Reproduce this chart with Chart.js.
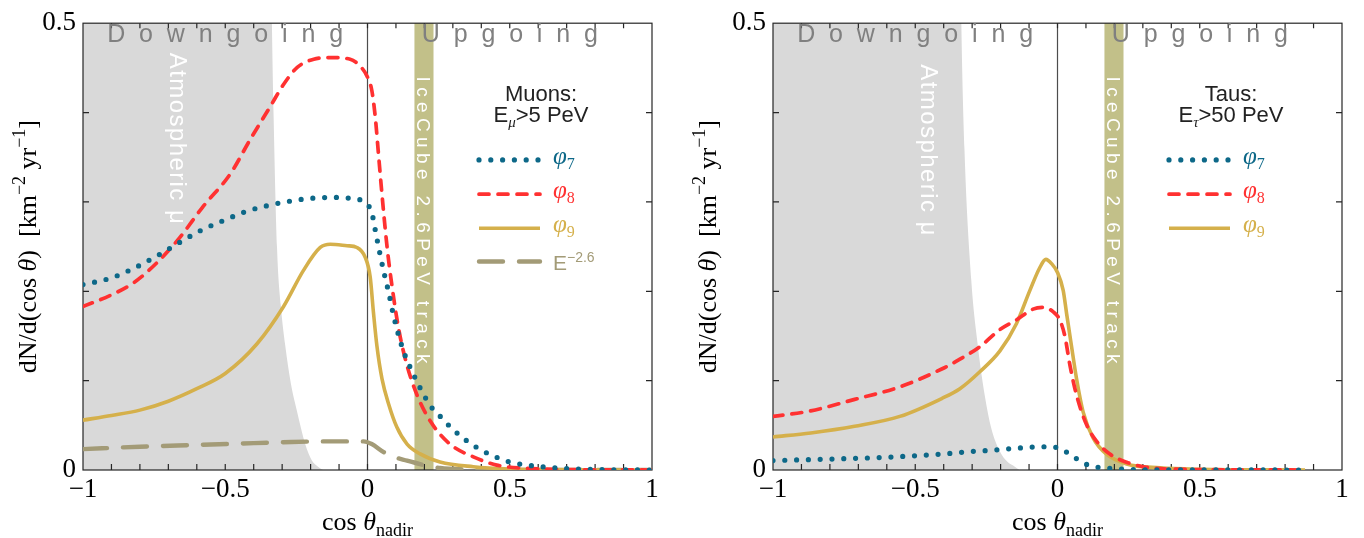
<!DOCTYPE html>
<html><head><meta charset="utf-8">
<script src="https://cdn.jsdelivr.net/npm/chart.js@4/dist/chart.umd.min.js"></script>
<style>
html,body{margin:0;padding:0;background:#fff;}
#wrap{position:relative;width:1364px;height:538px;overflow:hidden;}
#c1{position:absolute;left:0;top:0;}
#c2{position:absolute;left:680px;top:0;}
</style></head><body>
<div id="wrap"><canvas id="c1" width="680" height="538"></canvas><canvas id="c2" width="684" height="538"></canvas></div>
<script>
// ---------- tick labels ----------
const xTickValues = [-1, -0.5, 0, 0.5, 1];
const xTickLabels = ['\u22121', '\u22120.5', '0', '0.5', '1'];
const yTickValues = [0, 0.5];
const yTickLabels = ['0', '0.5'];
const seriesNames = ['\u03c67', '\u03c68', '\u03c69', 'E\u22122.6'];

// ---------- Muons panel (left) ----------
const muPhi7X = [-1, -0.9, -0.82, -0.74, -0.66, -0.58, -0.5, -0.43, -0.35, -0.27, -0.2, -0.12, -0.06, 0, 0.015, 0.03, 0.045, 0.06, 0.075, 0.09, 0.11, 0.13, 0.15, 0.183, 0.223, 0.25, 0.276, 0.335, 0.396, 0.437, 0.5, 0.6, 0.7, 0.8, 1];
const muPhi7Y = [0.2075, 0.215, 0.226, 0.2396, 0.2547, 0.269, 0.28, 0.289, 0.296, 0.301, 0.304, 0.305, 0.304, 0.297, 0.288, 0.264, 0.24, 0.218, 0.198, 0.175, 0.15, 0.13, 0.115, 0.093, 0.071, 0.062, 0.053, 0.036, 0.023, 0.0165, 0.009, 0.004, 0.0015, 0.0005, 0];

const muPhi8X = [-1, -0.9, -0.82, -0.74, -0.66, -0.58, -0.482, -0.412, -0.342, -0.294, -0.247, -0.189, -0.131, -0.061, -0.026, -0.002, 0.015, 0.027, 0.039, 0.051, 0.069, 0.086, 0.11, 0.139, 0.174, 0.22, 0.29, 0.372, 0.454, 0.55, 0.7, 1];
const muPhi8Y = [0.183, 0.196, 0.21, 0.232, 0.26, 0.294, 0.3315, 0.37, 0.4066, 0.432, 0.4505, 0.4597, 0.4615, 0.4597, 0.452, 0.441, 0.425, 0.396, 0.352, 0.308, 0.249, 0.206, 0.157, 0.117, 0.084, 0.055, 0.029, 0.0147, 0.0055, 0.002, 0.0005, 0];

const muPhi9X = [-1, -0.9, -0.8, -0.7, -0.6, -0.5, -0.389, -0.295, -0.225, -0.166, -0.131, -0.072, -0.037, -0.008, 0.0095, 0.021, 0.033, 0.051, 0.075, 0.103, 0.139, 0.185, 0.255, 0.372, 0.5, 0.7, 1];
const muPhi9Y = [0.0558, 0.061, 0.067, 0.077, 0.091, 0.108, 0.141, 0.183, 0.2234, 0.249, 0.2527, 0.251, 0.249, 0.238, 0.216, 0.176, 0.139, 0.102, 0.073, 0.048, 0.029, 0.018, 0.009, 0.0037, 0.0012, 0.0003, 0];

const muE26X = [-1, -0.8, -0.6, -0.45, -0.3, -0.15, -0.014, 0.015, 0.057, 0.092, 0.139, 0.197, 0.255, 0.35, 0.5, 1];
const muE26Y = [0.0234, 0.026, 0.028, 0.0295, 0.031, 0.032, 0.032, 0.029, 0.02, 0.0147, 0.0105, 0.0055, 0.0022, 0.0006, 0.0001, 0];

const muAtmX = [-1, -0.338, -0.336, -0.33, -0.318, -0.305, -0.289, -0.27, -0.248, -0.219, -0.196, -0.175, -0.156];
const muAtmY = [0.55, 0.55, 0.5, 0.396, 0.249, 0.185, 0.139, 0.098, 0.066, 0.029, 0.011, 0.004, 0];

// ---------- Taus panel (right) ----------
const tauPhi7X = [-1, -0.8, -0.6, -0.4, -0.32, -0.239, -0.157, -0.08, -0.039, 0, 0.034, 0.069, 0.108, 0.184, 0.266, 0.4, 0.87];
const tauPhi7Y = [0.0106, 0.0122, 0.0143, 0.018, 0.0203, 0.022, 0.024, 0.0258, 0.026, 0.025, 0.0196, 0.0123, 0.0055, 0.0019, 0.0005, 0.0002, 0];

const tauPhi8X = [-1, -0.87, -0.713, -0.554, -0.407, -0.343, -0.273, -0.203, -0.144, -0.086, -0.05, -0.015, 0.008, 0.026, 0.044, 0.067, 0.102, 0.137, 0.184, 0.243, 0.313, 0.4, 0.87];
const tauPhi8Y = [0.060, 0.066, 0.079, 0.093, 0.113, 0.124, 0.138, 0.157, 0.168, 0.18, 0.182, 0.177, 0.168, 0.1497, 0.1167, 0.0837, 0.0508, 0.0324, 0.0178, 0.0086, 0.003, 0.001, 0];

const tauPhi9X = [-1, -0.867, -0.713, -0.554, -0.407, -0.343, -0.273, -0.203, -0.144, -0.097, -0.062, -0.041, -0.021, 0, 0.02, 0.032, 0.049, 0.067, 0.09, 0.125, 0.172, 0.243, 0.36, 0.5, 0.87];
const tauPhi9Y = [0.037, 0.0415, 0.049, 0.06, 0.08, 0.091, 0.11, 0.133, 0.164, 0.201, 0.2266, 0.2357, 0.231, 0.221, 0.201, 0.175, 0.139, 0.102, 0.065, 0.036, 0.0178, 0.0068, 0.0024, 0.0008, 0];

const tauAtmX = [-1, -0.34, -0.338, -0.327, -0.303, -0.28, -0.256, -0.233, -0.203, -0.175, -0.156, -0.134];
const tauAtmY = [0.55, 0.55, 0.5, 0.359, 0.212, 0.139, 0.084, 0.047, 0.021, 0.009, 0.005, 0];

// ---------- styling ----------
const SANS = '"Liberation Sans", Arial, sans-serif';
const SERIF = '"Liberation Serif", "Times New Roman", serif';
const styles = [
  {color: '#0d6888', width: 5.2, dash: [0, 11.8], cap: 'round'},
  {color: '#ff3131', width: 3.7, dash: [10, 9], cap: 'round'},
  {color: '#d5b04b', width: 3.6, dash: [], cap: 'butt'},
  {color: '#a39b77', width: 4.4, dash: [24, 16], cap: 'round'}
];

const panels = [
  {
    canvas: 'c1', yW: 83, padR: 28,
    series: [[muPhi7X, muPhi7Y], [muPhi8X, muPhi8Y], [muPhi9X, muPhi9Y], [muE26X, muE26Y]],
    atm: [muAtmX, muAtmY],
    atmText: {x: -0.665, y: 0.467},
    title1: 'Muons:', sym: '\u03bc', rest: '>5 PeV'
  },
  {
    canvas: 'c2', yW: 93, padR: 22,
    series: [[tauPhi7X, tauPhi7Y], [tauPhi8X, tauPhi8Y], [tauPhi9X, tauPhi9Y]],
    atm: [tauAtmX, tauAtmY],
    atmText: {x: -0.449, y: 0.454},
    title1: 'Taus:', sym: '\u03c4', rest: '>50 PeV'
  }
];

function drawRich(ctx, segs, x, y, align) {
  let w = 0;
  segs.forEach(s => { ctx.font = s.f; w += ctx.measureText(s.t).width; });
  let cx = align === 'center' ? x - w / 2 : (align === 'right' ? x - w : x);
  ctx.textAlign = 'left'; ctx.textBaseline = 'alphabetic';
  segs.forEach(s => {
    ctx.font = s.f;
    if (s.c) ctx.fillStyle = s.c;
    ctx.fillText(s.t, cx, y + (s.dy || 0));
    cx += ctx.measureText(s.t).width;
  });
}
function drawSpaced(ctx, text, x, y, len, rot) {
  ctx.save();
  ctx.translate(x, y);
  if (rot) ctx.rotate(rot);
  ctx.letterSpacing = '0px';
  const w = ctx.measureText(text).width;
  const n = [...text].length;
  ctx.letterSpacing = ((len - w) / (n - 1)).toFixed(2) + 'px';
  ctx.textAlign = 'left'; ctx.textBaseline = 'alphabetic';
  ctx.fillText(text, 0, 0);
  ctx.restore();
}
function legendLabel(name, color) {
  if (name[0] === 'E') {
    return [{t: 'E', f: '21px ' + SANS, c: color}, {t: name.slice(1), f: '14px ' + SANS, dy: -8.4, c: color}];
  }
  return [{t: name[0], f: 'italic 25px ' + SERIF, c: color}, {t: name.slice(1), f: '16px ' + SERIF, dy: 5, c: color}];
}

function makePlugin(p) {
  const atmIndex = p.series.length;
  return {
    id: 'annot_' + p.canvas,
    afterDatasetDraw(chart, args) {
      if (args.index !== atmIndex) return;
      const ctx = chart.ctx, a = chart.chartArea, xs = chart.scales.x, ys = chart.scales.y;
      ctx.save();
      // IceCube band
      const b0 = xs.getPixelForValue(0.165), b1 = xs.getPixelForValue(0.232);
      ctx.fillStyle = '#c2c089';
      ctx.fillRect(b0, a.top, b1 - b0, a.bottom - a.top);
      // zero line
      const x0 = xs.getPixelForValue(0);
      ctx.strokeStyle = '#4d4d4d'; ctx.lineWidth = 1.2;
      ctx.beginPath(); ctx.moveTo(x0, a.top); ctx.lineTo(x0, a.bottom); ctx.stroke();
      // frame
      ctx.strokeStyle = '#262626'; ctx.lineWidth = 1.2;
      ctx.strokeRect(a.left, a.top, a.right - a.left, a.bottom - a.top);
      // inward ticks
      ctx.beginPath();
      for (let k = -9; k <= 9; k++) {
        const px = xs.getPixelForValue(k / 10);
        ctx.moveTo(px, a.bottom); ctx.lineTo(px, a.bottom - 6);
        ctx.moveTo(px, a.top); ctx.lineTo(px, a.top + 5);
      }
      for (let k = 1; k <= 4; k++) {
        const py = ys.getPixelForValue(k / 10);
        ctx.moveTo(a.left, py); ctx.lineTo(a.left + 6, py);
        ctx.moveTo(a.right, py); ctx.lineTo(a.right - 6, py);
      }
      ctx.stroke();
      // region labels
      ctx.fillStyle = '#808080';
      ctx.font = '25px ' + SANS;
      const yb = ys.getPixelForValue(0) - 428;
      drawSpaced(ctx, 'Downgoing', xs.getPixelForValue(-0.915), yb, 236, 0);
      drawSpaced(ctx, 'Upgoing', xs.getPixelForValue(0.191), yb, 176, 0);
      // Atmospheric mu
      ctx.fillStyle = '#ffffff';
      ctx.font = '24px ' + SANS;
      drawSpaced(ctx, 'Atmospheric \u03bc', xs.getPixelForValue(p.atmText.x) - 8.5, ys.getPixelForValue(p.atmText.y), 171, Math.PI / 2);
      // IceCube text
      ctx.font = '19px ' + SANS;
      drawSpaced(ctx, 'IceCube 2.6PeV track', (b0 + b1) / 2 - 6.8, a.top + 53.3, 287, Math.PI / 2);
      ctx.restore();
    },
    afterDatasetsDraw(chart) {
      const ctx = chart.ctx, a = chart.chartArea;
      ctx.save();
      // legend title
      ctx.fillStyle = '#222';
      drawRich(ctx, [{t: p.title1, f: '22px ' + SANS}], a.right - 111, a.top + 78, 'center');
      drawRich(ctx, [{t: 'E', f: '22px ' + SANS}, {t: p.sym, f: 'italic 15px ' + SERIF, dy: 5}, {t: p.rest, f: '22px ' + SANS}], a.right - 111, a.top + 99, 'center');
      // legend rows
      const rows = [136.7, 171, 205, 238.3];
      p.series.forEach((s, i) => {
        const st = styles[i];
        const ry = a.top + rows[i];
        ctx.save();
        ctx.strokeStyle = st.color; ctx.lineWidth = st.width; ctx.lineCap = st.cap;
        ctx.setLineDash(st.dash);
        ctx.beginPath(); ctx.moveTo(a.right - 173, ry); ctx.lineTo(a.right - 112 + (st.cap === 'round' && st.dash[0] === 0 ? 0.5 : 0), ry); ctx.stroke();
        ctx.restore();
        const isE = seriesNames[i][0] === 'E';
        drawRich(ctx, legendLabel(seriesNames[i], st.color), a.right - 99, ry + (isE ? 8.4 : 4), 'left');
      });
      // x axis title
      ctx.fillStyle = '#000';
      drawRich(ctx, [{t: 'cos ', f: '26px ' + SERIF}, {t: '\u03b8', f: 'italic 26px ' + SERIF}, {t: 'nadir', f: '18px ' + SERIF, dy: 6}], (a.left + a.right) / 2, 530, 'center');
      // y axis title
      ctx.translate(36, (a.top + a.bottom) / 2);
      ctx.rotate(-Math.PI / 2);
      drawRich(ctx, [
        {t: 'dN/d(cos ', f: '26px ' + SERIF},
        {t: '\u03b8', f: 'italic 26px ' + SERIF},
        {t: ')  [km', f: '26px ' + SERIF},
        {t: '\u22122', f: '18px ' + SERIF, dy: -11},
        {t: ' yr', f: '26px ' + SERIF},
        {t: '\u22121', f: '18px ' + SERIF, dy: -11},
        {t: ']', f: '26px ' + SERIF}
      ], 0, 0, 'center');
      ctx.restore();
    }
  };
}

function makeChart(p) {
  const datasets = p.series.map((s, i) => ({
    label: seriesNames[i],
    data: s[0].map((v, k) => ({x: v, y: s[1][k]})),
    borderColor: styles[i].color,
    borderWidth: styles[i].width,
    borderDash: styles[i].dash,
    borderCapStyle: styles[i].cap,
    borderJoinStyle: 'round',
    pointRadius: 0,
    fill: false,
    cubicInterpolationMode: 'monotone',
    order: 0
  }));
  datasets.push({
    label: 'Atmospheric',
    data: p.atm[0].map((v, k) => ({x: v, y: p.atm[1][k]})),
    borderWidth: 0,
    borderColor: 'rgba(0,0,0,0)',
    backgroundColor: '#d9d9d9',
    pointRadius: 0,
    fill: 'origin',
    cubicInterpolationMode: 'monotone',
    order: 10
  });
  const tickFont = {family: '"Liberation Serif", "Times New Roman", serif', size: 27};
  return new Chart(document.getElementById(p.canvas), {
    type: 'line',
    data: {datasets},
    options: {
      responsive: false,
      animation: false,
      events: [],
      layout: {padding: {left: 0, right: p.padR, top: 15, bottom: 0}},
      plugins: {legend: {display: false}, tooltip: {enabled: false}},
      scales: {
        x: {
          type: 'linear', min: -1, max: 1,
          afterFit(s) { s.height = 68; },
          afterBuildTicks(s) { s.ticks = xTickValues.map(v => ({value: v})); },
          ticks: {padding: 4, color: '#000', font: tickFont, autoSkip: false, maxRotation: 0,
                  callback: (v, i) => xTickLabels[i]},
          grid: {display: false, drawTicks: false},
          border: {display: false}
        },
        y: {
          type: 'linear', min: 0, max: 0.5,
          afterFit(s) { s.width = p.yW; },
          afterBuildTicks(s) { s.ticks = yTickValues.map(v => ({value: v})); },
          ticks: {padding: 7, color: '#000', font: tickFont, autoSkip: false,
                  callback: (v, i) => yTickLabels[i]},
          grid: {display: false, drawTicks: false},
          border: {display: false}
        }
      }
    },
    plugins: [makePlugin(p)]
  });
}
panels.forEach(makeChart);
</script>
</body></html>
